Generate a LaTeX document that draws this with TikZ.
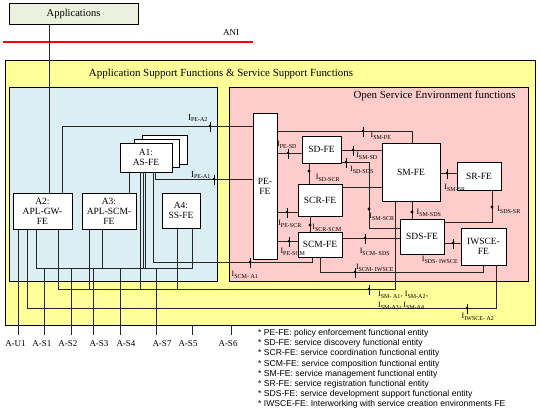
\documentclass[tikz,border=0pt]{standalone}
\usepackage{fontspec}
\setmainfont{Liberation Serif}
\newfontfamily\legendfont{Liberation Sans}
\usepackage{tikz}
\usetikzlibrary{shapes,positioning,calc}
\definecolor{asfyellow}{RGB}{255,255,153}
\definecolor{aslblue}{RGB}{218,238,243}
\definecolor{osepink}{RGB}{255,204,204}
\definecolor{appgreen}{RGB}{235,241,222}
\tikzstyle{fe} = [rectangle, draw=black, fill=white, inner sep=0pt, align=center, font=\fontsize{9.5}{10}\selectfont]
\tikzstyle{area} = [rectangle, draw=black, inner sep=0pt]
\tikzstyle{wire} = [draw=black!85, line width=0.7pt]
\tikzstyle{iface} = [inner sep=0pt, font=\fontsize{8}{9}\selectfont]
\tikzstyle{port} = [inner sep=0pt, font=\fontsize{9}{10}\selectfont]
\newcommand{\ifc}[1]{I\textsubscript{#1}}

\begin{document}
\begin{tikzpicture}[x=1pt, y=-1pt]
	\useasboundingbox (0,0) rectangle (540,412);
	% applications and ANI
	\node[fe, fill=appgreen, minimum width=129pt, minimum height=21pt, font=\fontsize{10.5}{12}\selectfont] (apps) at (73.5,13.5) {Applications};
	\draw[red, line width=2.4pt] (3,42) -- (253,42);
	\node[port] (ani) at (231,33) {ANI};
	
	% areas
	\node[area, fill=asfyellow, minimum width=530pt, minimum height=265pt] (asf) at (270,192.5) {};
	\node[font=\fontsize{10.9}{12}\selectfont] (asftitle) at (221,74) {Application Support Functions \& Service Support Functions};
	\node[area, fill=aslblue, minimum width=208pt, minimum height=194pt] (asl) at (113,184) {};
	\node[area, fill=osepink, minimum width=299pt, minimum height=194pt] (ose) at (378.5,184) {};
	\node[anchor=east, font=\fontsize{10.9}{12}\selectfont] (osetitle) at (519,96) {Open Service Environment functions};
	
	% application support FEs
	\node[fe, minimum width=45pt, minimum height=29pt] (a1c) at (164.5,149.5) {};
	\node[fe, minimum width=45pt, minimum height=28pt] (a1b) at (156.5,153) {};
	\node[fe, minimum width=52pt, minimum height=29pt] (a1) at (146,157.5) {A1:\\AS-FE};
	\node[fe, minimum width=59pt, minimum height=36pt] (a2) at (42.5,211) {A2:\\APL-GW-\\FE};
	\node[fe, minimum width=54pt, minimum height=36pt] (a3) at (109,211) {A3:\\APL-SCM-\\FE};
	\node[fe, minimum width=38pt, minimum height=35pt] (a4) at (181,210.5) {A4:\\SS-FE};
	
	% OSE FEs
	\node[fe, minimum width=24pt, minimum height=146pt] (pefe) at (265,186) {PE-\\FE};
	\node[fe, minimum width=39pt, minimum height=27pt] (sdfe) at (321.5,149.5) {SD-FE};
	\node[fe, minimum width=44pt, minimum height=32pt] (scrfe) at (320,200) {SCR-FE};
	\node[fe, minimum width=44pt, minimum height=25pt] (scmfe) at (320,244.5) {SCM-FE};
	\node[fe, minimum width=58pt, minimum height=58pt] (smfe) at (411,172) {SM-FE};
	\node[fe, minimum width=44pt, minimum height=28pt] (srfe) at (479,176) {SR-FE};
	\node[fe, minimum width=44pt, minimum height=35pt] (sdsfe) at (422,236.5) {SDS-FE};
	\node[fe, minimum width=45pt, minimum height=37pt] (iwsce) at (483.5,246.5) {IWSCE-\\FE};
	
	% reference points
	\foreach \nm/\px/\lx/\txt in {au1/18/15.5/A-U1, as1/44/42/A-S1, as2/71/68/A-S2, as3/93/99/A-S3, as4/120/126/A-S4, as7/156/162/A-S7, as5/192/188/A-S5, as6/231/228/A-S6} {
		\coordinate (\nm) at (\px,335);
		\node[port] (\nm-lbl) at (\lx,344) {\txt};
	}
	
	% wires of the application side
	\draw[wire] (apps.south -| 49,0) -- (a2.north -| 49,0);
	\draw[wire] (a2.north -| 62,0) |- (pefe.west |- 0,126);
	\draw[wire] (a1.south -| 155,0) |- (pefe.west |- 0,179);
	\draw[wire] (a1.south -| 129,0) -- (a3.north -| 129,0);
	\draw[wire] (a2.south -| au1) -- (au1);
	\draw[wire] (a2.south -| 36,0) -- (36,268) -| (a4.south -| 192,0);
	\draw[wire] (a3.south -| 102,0) -- (102,268);
	\draw[wire] (a1.south -| 143,0) -- (143,268);
	\draw[wire] (a1.south -| 145,0) -- (145,268);
	\foreach \p in {as1,as2,as3,as4,as7}
		\draw[wire] (\p |- 0,268) -- (\p);
	\draw[wire] (a2.south -| 58,0) -- (58,289) -| (smfe.south -| 395,0);
	\draw[wire] (a3.south -| 89,0) -- (89,289);
	\draw[wire] (a1.south -| 140,0) -- (140,289);
	\draw[wire] (a4.south -| 177,0) -- (177,289);
	\draw[wire] (a2.south -| 27,0) -- (27,308) -| (iwsce.south -| 496,0);
	\draw[wire] (a1.south -| 153,0) -- (153,262) -| (scmfe.south -| 312,0);
	\draw[wire] (asf.south -| as5) -- (as5);
	\draw[wire] (asf.south -| as6) -- (as6);
	
	% wires inside OSE
	\draw[wire] (pefe.east |- 0,131) -| (smfe.north -| 412,0);
	\draw[wire] (pefe.east |- 0,153) -- (sdfe.west |- 0,153);
	\draw[wire] (sdfe.east |- 0,150) -- (smfe.west |- 0,150);
	\draw[wire] (sdfe.east |- 0,162) -- (369,162) |- (sdsfe.west |- 0,228);
	\draw[wire] (scrfe.east |- 0,187) -- (smfe.west |- 0,187);
	\draw[wire] (sdfe.south -| 309,0) -- (scrfe.north -| 309,0);
	\draw[wire] (pefe.east |- 0,212) -- (scrfe.west |- 0,212);
	\draw[wire] (scrfe.south -| 310,0) -- (scmfe.north -| 310,0);
	\draw[wire] (pefe.east |- 0,241) -- (scmfe.west |- 0,241);
	\draw[wire] (scmfe.east |- 0,238) -- (sdsfe.west |- 0,238);
	\draw[wire] (scmfe.south -| 320,0) -- (320,272) -| (iwsce.south -| 483,0);
	\draw[wire] (smfe.south -| 412,0) -- (sdsfe.north -| 412,0);
	\draw[wire] (smfe.east |- 0,173) -- (srfe.west |- 0,173);
	\draw[wire] (srfe.south -| 492,0) |- (sdsfe.east |- 0,222);
	\draw[wire] (sdsfe.east |- 0,243) -- (iwsce.west |- 0,243);
	
	% interface marks
	\foreach \pt in {(210,126),(214,179),(250,262),(467,308),(369,289),(363,131),(288,153),(353,150),(346,162),(287,212),(289,241),(365,238),(355,272),(447,173),(453,243)} {
		\fill \pt circle (1.4pt);
		\draw[line width=0.7pt] \pt ++(0,-4) -- ++(0,10);
	}
	\foreach \pt in {(309,171),(310,225),(369,209),(412,212),(492,207)}
		\fill \pt circle (1.6pt);
	
	% interface labels
	\node[iface, font=\fontsize{9}{10}\selectfont] (lpea2) at (198,118) {\ifc{PE-A2}};
	\node[iface, font=\fontsize{9}{10}\selectfont] (lpea1) at (201,175) {\ifc{PE-A1}};
	\node[iface] (lscma1) at (245,275) {\ifc{SCM- A1}};
	\node[iface] (liwa2) at (478,317) {\ifc{IWSCE- A2}};
	\node[iface] (lsmpe) at (381,136) {\ifc{SM-PE}};
	\node[iface] (lpesd) at (287,145) {\ifc{PE-SD}};
	\node[iface] (lsmsd) at (367,156) {\ifc{SM-SD}};
	\node[iface] (lsdsds) at (362,170) {\ifc{SD-SDS}};
	\node[iface] (lsmscr) at (382,217) {\ifc{SM-SCR}};
	\node[iface] (lsdscr) at (328,178) {\ifc{SD-SCR}};
	\node[iface] (lpescr) at (290,224) {\ifc{PE-SCR}};
	\node[iface] (lscrscm) at (327,228) {\ifc{SCR-SCM}};
	\node[iface] (lpescm) at (293,252) {\ifc{PE-SCM}};
	\node[iface] (lscmsds) at (375,252) {\ifc{SCM- SDS}};
	\node[iface] (lscmiw) at (375,268) {\ifc{SCM- IWSCE}};
	\node[iface] (lsmsds) at (429,213) {\ifc{SM-SDS}};
	\node[iface] (lsmsr) at (455,188) {\ifc{SM-SR}};
	\node[iface] (lsdssr) at (509,210) {\ifc{SDS-SR}};
	\node[iface] (lsdsiw) at (440,260) {\ifc{SDS- IWSCE}};
	\node[iface, anchor=west, align=left, font=\fontsize{8}{11}\selectfont] (lsma) at (378,300.5) {\ifc{SM- A1}, \ifc{SM-A2},\\\ifc{SM-A3}, \ifc{SM-A4}};
	
	% legend
	\node[anchor=north west, align=left, inner sep=0pt, font=\legendfont\fontsize{8.6}{10.2}\selectfont] (legend) at (258,329) {%
		* PE-FE: policy enforcement functional entity\\
		* SD-FE: service discovery functional entity\\
		* SCR-FE: service coordination functional entity\\
		* SCM-FE: service composition functional entity\\
		* SM-FE: service management functional entity\\
		* SR-FE: service registration functional entity\\
		* SDS-FE: service development support functional entity\\
		* IWSCE-FE: Interworking with service creation environments FE};
\end{tikzpicture}
\end{document}
